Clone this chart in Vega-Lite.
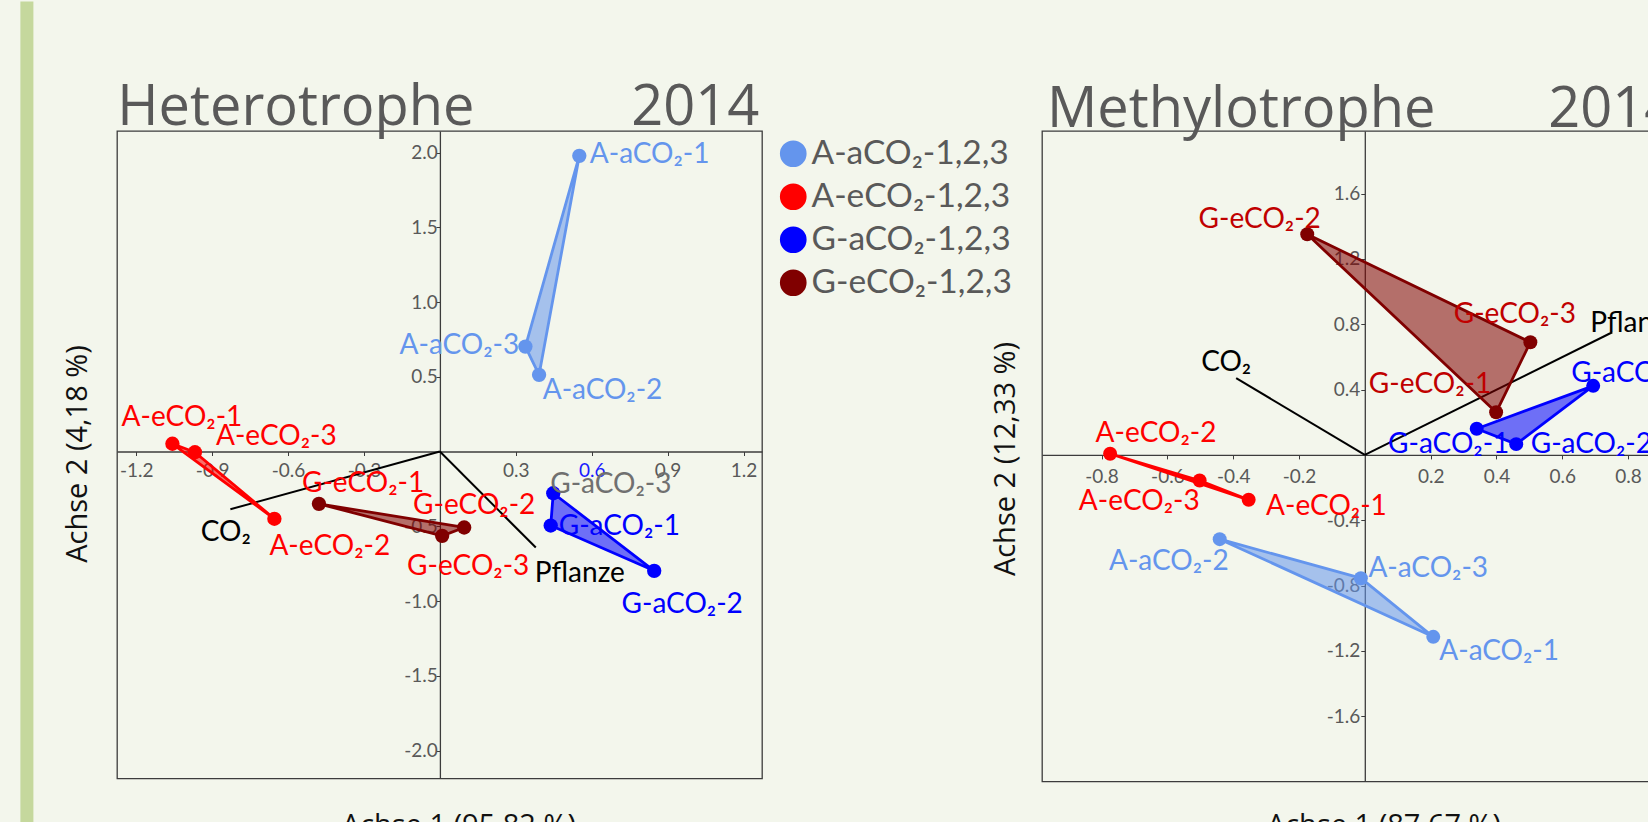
{
  "$schema": "https://vega.github.io/schema/vega-lite/v6.json",
  "padding": {"left": 19, "top": 0, "right": 0, "bottom": 0},
  "background": "#f3f6ec",
  "datasets": {
    "het": [
      {"grp": "A-aCO₂-1,2,3", "label": "A-aCO₂-1", "x": 0.551, "y": 1.978},
      {"grp": "A-aCO₂-1,2,3", "label": "A-aCO₂-2", "x": 0.392, "y": 0.513},
      {"grp": "A-aCO₂-1,2,3", "label": "A-aCO₂-3", "x": 0.338, "y": 0.702},
      {"grp": "A-eCO₂-1,2,3", "label": "A-eCO₂-1", "x": -1.057, "y": 0.052},
      {"grp": "A-eCO₂-1,2,3", "label": "A-eCO₂-2", "x": -0.654, "y": -0.45},
      {"grp": "A-eCO₂-1,2,3", "label": "A-eCO₂-3", "x": -0.968, "y": -0.005},
      {"grp": "G-aCO₂-1,2,3", "label": "G-aCO₂-1", "x": 0.438, "y": -0.495},
      {"grp": "G-aCO₂-1,2,3", "label": "G-aCO₂-2", "x": 0.847, "y": -0.798},
      {"grp": "G-aCO₂-1,2,3", "label": "G-aCO₂-3", "x": 0.448, "y": -0.279},
      {"grp": "G-eCO₂-1,2,3", "label": "G-eCO₂-1", "x": -0.478, "y": -0.35},
      {"grp": "G-eCO₂-1,2,3", "label": "G-eCO₂-2", "x": 0.096, "y": -0.508},
      {"grp": "G-eCO₂-1,2,3", "label": "G-eCO₂-3", "x": 0.009, "y": -0.564}
    ],
    "hetvec": [
      {"label": "CO₂", "x": -0.828, "y": -0.386},
      {"label": "Pflanze", "x": 0.379, "y": -0.642}
    ],
    "met": [
      {"grp": "A-aCO₂-1,2,3", "label": "A-aCO₂-1", "x": 0.208, "y": -1.114},
      {"grp": "A-aCO₂-1,2,3", "label": "A-aCO₂-2", "x": -0.441, "y": -0.516},
      {"grp": "A-aCO₂-1,2,3", "label": "A-aCO₂-3", "x": -0.012, "y": -0.755},
      {"grp": "A-eCO₂-1,2,3", "label": "A-eCO₂-1", "x": -0.353, "y": -0.275},
      {"grp": "A-eCO₂-1,2,3", "label": "A-eCO₂-2", "x": -0.774, "y": 0.007},
      {"grp": "A-eCO₂-1,2,3", "label": "A-eCO₂-3", "x": -0.502, "y": -0.157},
      {"grp": "G-aCO₂-1,2,3", "label": "G-aCO₂-1", "x": 0.34, "y": 0.16},
      {"grp": "G-aCO₂-1,2,3", "label": "G-aCO₂-2", "x": 0.46, "y": 0.066},
      {"grp": "G-aCO₂-1,2,3", "label": "G-aCO₂-3", "x": 0.694, "y": 0.423},
      {"grp": "G-eCO₂-1,2,3", "label": "G-eCO₂-1", "x": 0.399, "y": 0.261},
      {"grp": "G-eCO₂-1,2,3", "label": "G-eCO₂-2", "x": -0.175, "y": 1.351},
      {"grp": "G-eCO₂-1,2,3", "label": "G-eCO₂-3", "x": 0.503, "y": 0.69}
    ],
    "metvec": [
      {"label": "CO₂", "x": -0.391, "y": 0.47},
      {"label": "Pflanze", "x": 0.752, "y": 0.751}
    ]
  },
  "spacing": 280,
  "bounds": "flush",
  "resolve": {"scale": {"color": "independent", "fill": "independent", "stroke": "independent"}},
  "hconcat": [
    {
      "width": 645,
      "height": 647.5,
      "layer": [
        {"data": {"values": [{}]}, "mark": {"type": "rect", "color": "#c5d89d"},
          "encoding": {"x": {"datum": -1.6578, "type": "quantitative"}, "x2": {"datum": -1.6064}, "y": {"datum": 3.01, "type": "quantitative"}, "y2": {"datum": -2.488}}},
        {"data": {"values": [{}]}, "mark": {"type": "text", "text": "Heterotrophe", "font": "Open Sans", "fontSize": 56, "color": "#595959", "align": "left"},
          "encoding": {"x": {"datum": -1.275, "type": "quantitative"}, "y": {"datum": 2.181, "type": "quantitative"}}},
        {"data": {"values": [{}]}, "mark": {"type": "text", "text": "2014", "font": "Open Sans", "fontSize": 56, "color": "#595959", "align": "right"},
          "encoding": {"x": {"datum": 1.262, "type": "quantitative"}, "y": {"datum": 2.181, "type": "quantitative"}}},
        {"data": {"name": "hetvec"}, "mark": {"type": "rule", "color": "#000000", "strokeWidth": 2},
          "encoding": {"x": {"field": "x", "type": "quantitative"}, "y": {"field": "y", "type": "quantitative"}, "x2": {"datum": 0}, "y2": {"datum": 0}}},
        {
          "data": {"name": "het"},
          "encoding": {
            "x": {"field": "x", "type": "quantitative", "scale": {"domain": [-1.276, 1.273], "nice": false, "zero": false},
              "axis": {"title": "Achse 1 (95,82 %)", "values": [-1.2, -0.9, -0.6, -0.3, 0.3, 0.6, 0.9, 1.2], "format": ".1f", "labelExpr": "replace(datum.label, '−', '-')", "labelColor": {"condition": {"test": "abs(datum.value - 0.6) < 0.01", "value": "#1a1aff"}, "value": "#595959"}, "offset": -327, "labelPadding": 6, "titleX": 341.4, "titleY": 360, "titleBaseline": "top", "titleAlign": "center"}},
            "y": {"field": "y", "type": "quantitative", "scale": {"domain": [-2.187, 2.144], "nice": false, "zero": false},
              "axis": {"title": "Achse 2 (4,18 %)", "values": [-2, -1.5, -1, -0.5, 0.5, 1, 1.5, 2], "format": ".1f", "labelExpr": "replace(datum.label, '−', '-')", "offset": -322.9, "labelPadding": -1.4, "titleX": -362.8, "titleY": 322.5, "titleBaseline": "middle", "titleAlign": "center", "titleAngle": 270}}
          },
          "resolve": {"scale": {"fill": "independent"}},
          "layer": [
            {"mark": {"type": "line", "interpolate": "linear-closed", "strokeWidth": 2.8, "fillOpacity": 0.55, "strokeJoin": "round"},
              "encoding": {
                "order": {"field": "label", "type": "ordinal"},
                "fill": {"field": "grp", "type": "nominal", "scale": {"domain": ["A-aCO₂-1,2,3", "A-eCO₂-1,2,3", "G-aCO₂-1,2,3", "G-eCO₂-1,2,3"], "range": ["#6495ED", "#FF0000", "#0000FF", "#800000"]}, "legend": null},
                "stroke": {"field": "grp", "type": "nominal", "scale": {"domain": ["A-aCO₂-1,2,3", "A-eCO₂-1,2,3", "G-aCO₂-1,2,3", "G-eCO₂-1,2,3"], "range": ["#6495ED", "#FF0000", "#0000FF", "#800000"]}, "legend": null}
              }},
            {"mark": {"type": "point", "filled": true, "size": 205, "opacity": 1, "strokeWidth": 0},
              "encoding": {
                "fill": {"field": "grp", "type": "nominal", "scale": {"domain": ["A-aCO₂-1,2,3", "A-eCO₂-1,2,3", "G-aCO₂-1,2,3", "G-eCO₂-1,2,3"], "range": ["#6495ED", "#FF0000", "#0000FF", "#800000"]},
                  "legend": {"orient": "none", "legendX": 659.5, "legendY": 6, "title": null, "symbolType": "circle", "symbolSize": 713, "symbolStrokeWidth": 0, "labelFont": "Lato", "labelFontSize": 33.5, "labelColor": "#595959", "labelBaseline": "middle", "labelOffset": 1.5, "rowPadding": 8, "padding": 0, "labelLimit": 400}}
              }},
            {
              "encoding": {
                "text": {"field": "label"},
                "color": {"condition": {"test": "datum.label === 'G-aCO₂-3'", "value": "#707070"}, "field": "grp", "type": "nominal", "scale": {"domain": ["A-aCO₂-1,2,3", "A-eCO₂-1,2,3", "G-aCO₂-1,2,3", "G-eCO₂-1,2,3"], "range": ["#6495ED", "#FF0000", "#0000FF", "#FF0000"]}, "legend": null}
              },
              "layer": [
                {"transform": [{"filter": "datum.label === 'A-aCO₂-1'"}], "mark": {"type": "text", "align": "left", "dx": 10.5, "dy": 7.4}},
                {"transform": [{"filter": "datum.label === 'A-aCO₂-2'"}], "mark": {"type": "text", "align": "left", "dx": 3.6, "dy": 24}},
                {"transform": [{"filter": "datum.label === 'A-aCO₂-3'"}], "mark": {"type": "text", "align": "right", "dx": -6.2, "dy": 7.3}},
                {"transform": [{"filter": "datum.label === 'A-eCO₂-1'"}], "mark": {"type": "text", "align": "center", "dx": 9.5, "dy": -17.3}},
                {"transform": [{"filter": "datum.label === 'A-eCO₂-2'"}], "mark": {"type": "text", "align": "left", "dx": -5, "dy": 36}},
                {"transform": [{"filter": "datum.label === 'A-eCO₂-3'"}], "mark": {"type": "text", "align": "left", "dx": 21, "dy": -7.4}},
                {"transform": [{"filter": "datum.label === 'G-aCO₂-1'"}], "mark": {"type": "text", "align": "left", "dx": 8, "dy": 9}},
                {"transform": [{"filter": "datum.label === 'G-aCO₂-2'"}], "mark": {"type": "text", "align": "center", "dx": 28, "dy": 42}},
                {"transform": [{"filter": "datum.label === 'G-aCO₂-3'"}], "mark": {"type": "text", "align": "left", "dx": -3, "dy": 0}},
                {"transform": [{"filter": "datum.label === 'G-eCO₂-1'"}], "mark": {"type": "text", "align": "left", "dx": -17, "dy": -12}},
                {"transform": [{"filter": "datum.label === 'G-eCO₂-2'"}], "mark": {"type": "text", "align": "center", "dx": 10, "dy": -13}},
                {"transform": [{"filter": "datum.label === 'G-eCO₂-3'"}], "mark": {"type": "text", "align": "center", "dx": 26, "dy": 39}}
              ]
            }
          ]
        },
        {
          "data": {"name": "hetvec"},
          "encoding": {"x": {"field": "x", "type": "quantitative"}, "y": {"field": "y", "type": "quantitative"}, "text": {"field": "label"}},
          "layer": [
            {"transform": [{"filter": "datum.label === 'CO₂'"}], "mark": {"type": "text", "color": "#000000", "align": "center", "dx": -4.6, "dy": 32}},
            {"transform": [{"filter": "datum.label === 'Pflanze'"}], "mark": {"type": "text", "color": "#000000", "align": "left", "dx": -1, "dy": 34}}
          ]
        }
      ]
    },
    {
      "width": 645,
      "height": 650.5,
      "layer": [
        {"data": {"values": [{}]}, "mark": {"type": "text", "text": "Methylotrophe", "font": "Open Sans", "fontSize": 56, "color": "#595959", "align": "left"},
          "encoding": {"x": {"datum": -0.966, "type": "quantitative"}, "y": {"datum": 2.011, "type": "quantitative"}}},
        {"data": {"values": [{}]}, "mark": {"type": "text", "text": "2014", "font": "Open Sans", "fontSize": 56, "color": "#595959", "align": "left"},
          "encoding": {"x": {"datum": 0.557, "type": "quantitative"}, "y": {"datum": 2.011, "type": "quantitative"}}},
        {"data": {"name": "metvec"}, "mark": {"type": "rule", "color": "#000000", "strokeWidth": 2},
          "encoding": {"x": {"field": "x", "type": "quantitative"}, "y": {"field": "y", "type": "quantitative"}, "x2": {"datum": 0}, "y2": {"datum": 0}}},
        {
          "data": {"name": "met"},
          "encoding": {
            "x": {"field": "x", "type": "quantitative", "scale": {"domain": [-0.981, 0.979], "nice": false, "zero": false},
              "axis": {"title": "Achse 1 (87,67 %)", "values": [-0.8, -0.6, -0.4, -0.2, 0.2, 0.4, 0.6, 0.8], "format": ".1f", "labelExpr": "replace(datum.label, '−', '-')", "offset": -326.6, "labelPadding": 9, "titleX": 341.5, "titleY": 356.6, "titleBaseline": "top", "titleAlign": "center"}},
            "y": {"field": "y", "type": "quantitative", "scale": {"domain": [-2.0, 1.9835], "nice": false, "zero": false},
              "axis": {"title": "Achse 2 (12,33 %)", "values": [-1.6, -1.2, -0.8, -0.4, 0.4, 0.8, 1.2, 1.6], "format": ".1f", "labelExpr": "replace(datum.label, '−', '-')", "offset": -322.8, "labelPadding": 1, "titleX": -359.3, "titleY": 327.5, "titleBaseline": "middle", "titleAlign": "center", "titleAngle": 270}}
          },
          "layer": [
            {"mark": {"type": "line", "interpolate": "linear-closed", "strokeWidth": 2.8, "fillOpacity": 0.55, "strokeJoin": "round"},
              "encoding": {
                "order": {"field": "label", "type": "ordinal"},
                "fill": {"field": "grp", "type": "nominal", "scale": {"domain": ["A-aCO₂-1,2,3", "A-eCO₂-1,2,3", "G-aCO₂-1,2,3", "G-eCO₂-1,2,3"], "range": ["#6495ED", "#FF0000", "#0000FF", "#800000"]}, "legend": null},
                "stroke": {"field": "grp", "type": "nominal", "scale": {"domain": ["A-aCO₂-1,2,3", "A-eCO₂-1,2,3", "G-aCO₂-1,2,3", "G-eCO₂-1,2,3"], "range": ["#6495ED", "#FF0000", "#0000FF", "#800000"]}, "legend": null}
              }},
            {"mark": {"type": "point", "filled": true, "size": 195, "opacity": 1, "strokeWidth": 0},
              "encoding": {
                "fill": {"field": "grp", "type": "nominal", "scale": {"domain": ["A-aCO₂-1,2,3", "A-eCO₂-1,2,3", "G-aCO₂-1,2,3", "G-eCO₂-1,2,3"], "range": ["#6495ED", "#FF0000", "#0000FF", "#800000"]}, "legend": null}
              }},
            {
              "encoding": {
                "text": {"field": "label"},
                "color": {"field": "grp", "type": "nominal", "scale": {"domain": ["A-aCO₂-1,2,3", "A-eCO₂-1,2,3", "G-aCO₂-1,2,3", "G-eCO₂-1,2,3"], "range": ["#6495ED", "#FF0000", "#0000FF", "#C00000"]}, "legend": null}
              },
              "layer": [
                {"transform": [{"filter": "datum.label === 'A-aCO₂-1'"}], "mark": {"type": "text", "align": "left", "dx": 6, "dy": 23}},
                {"transform": [{"filter": "datum.label === 'A-aCO₂-2'"}], "mark": {"type": "text", "align": "right", "dx": 9, "dy": 30.6}},
                {"transform": [{"filter": "datum.label === 'A-aCO₂-3'"}], "mark": {"type": "text", "align": "left", "dx": 7.5, "dy": -1}},
                {"transform": [{"filter": "datum.label === 'A-eCO₂-1'"}], "mark": {"type": "text", "align": "left", "dx": 17.4, "dy": 15}},
                {"transform": [{"filter": "datum.label === 'A-eCO₂-2'"}], "mark": {"type": "text", "align": "left", "dx": -14.5, "dy": -11.6}},
                {"transform": [{"filter": "datum.label === 'A-eCO₂-3'"}], "mark": {"type": "text", "align": "right", "dx": 0, "dy": 29}},
                {"transform": [{"filter": "datum.label === 'G-aCO₂-1'"}], "mark": {"type": "text", "align": "center", "dx": -28, "dy": 24}},
                {"transform": [{"filter": "datum.label === 'G-aCO₂-2'"}], "mark": {"type": "text", "align": "left", "dx": 14.5, "dy": 9}},
                {"transform": [{"filter": "datum.label === 'G-aCO₂-3'"}], "mark": {"type": "text", "align": "left", "dx": -22, "dy": -4}},
                {"transform": [{"filter": "datum.label === 'G-eCO₂-1'"}], "mark": {"type": "text", "align": "right", "dx": -5, "dy": -19}},
                {"transform": [{"filter": "datum.label === 'G-eCO₂-2'"}], "mark": {"type": "text", "align": "right", "dx": 13.6, "dy": -6}},
                {"transform": [{"filter": "datum.label === 'G-eCO₂-3'"}], "mark": {"type": "text", "align": "center", "dx": -15.5, "dy": -19}}
              ]
            }
          ]
        },
        {
          "data": {"name": "metvec"},
          "encoding": {"x": {"field": "x", "type": "quantitative"}, "y": {"field": "y", "type": "quantitative"}, "text": {"field": "label"}},
          "layer": [
            {"transform": [{"filter": "datum.label === 'CO₂'"}], "mark": {"type": "text", "color": "#000000", "align": "center", "dx": -10, "dy": -6.7}},
            {"transform": [{"filter": "datum.label === 'Pflanze'"}], "mark": {"type": "text", "color": "#000000", "align": "left", "dx": -22, "dy": -0.7}}
          ]
        }
      ]
    }
  ],
  "config": {
    "view": {"stroke": "#3c3c3c", "strokeWidth": 1.3},
    "axis": {"grid": false, "labelFont": "Lato", "labelFontSize": 19, "labelColor": "#595959", "labelOverlap": false, "labelFlush": false, "domainColor": "#3c3c3c", "domainWidth": 1.3, "tickColor": "#3c3c3c", "tickSize": 4, "tickWidth": 1, "titleFont": "Open Sans", "titleFontSize": 29, "titleFontWeight": "normal", "titleColor": "#111111"},
    "text": {"font": "Lato", "fontSize": 28, "baseline": "alphabetic"}
  }
}
